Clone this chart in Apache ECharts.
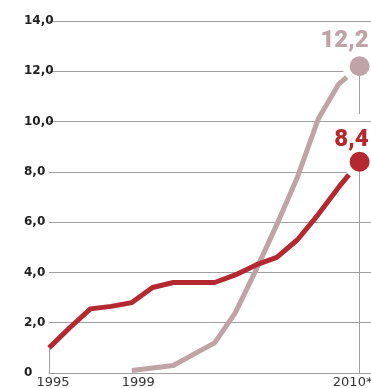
<!DOCTYPE html>
<html>
<head>
<meta charset="utf-8">
<script src="https://cdn.jsdelivr.net/npm/echarts@6/dist/echarts.min.js"></script>
<style>
html,body{margin:0;padding:0;background:#fff;}
#chart{width:371px;height:388px;}
</style>
</head>
<body>
<div id="chart"></div>
<script>
const years = [1995,1996,1997,1998,1999,2000,2001,2002,2003,2004,2005,2006,2007,2008,2009,2010];
const redValues = [1.0,1.8,2.55,2.65,2.8,3.4,3.6,3.6,3.6,3.9,4.3,4.6,5.3,6.3,7.4,8.4];
const grayYears = [1999,2000,2001,2002,2003,2004,2005,2006,2007,2008,2009,2010];
const grayValues = [0.1,0.2,0.3,0.75,1.2,2.4,4.1,5.9,7.8,10.1,11.5,12.2];
const xTickLabels = [1995,1999,2010];
const yTicks = [0,2,4,6,8,10,12,14];

const RED = '#b5282f';
const GRAY = '#c0a3a6';
const GRID = '#a0a0a0';

const fmt = v => v === 0 ? '0' : v.toFixed(1).replace('.', ',');

const redData = years.map((y,i)=>[y, redValues[i]]);
const grayData = grayYears.map((y,i)=>[y, grayValues[i]]);
const lastRed = redData[redData.length-1];
const lastGray = grayData[grayData.length-1];
const midVal = (lastRed[1] + lastGray[1]) / 2;

const chart = echarts.init(document.getElementById('chart'), null, {renderer:'canvas'});
chart.setOption({
  animation:false,
  grid:{left:49, right:0, top:21, bottom:15, containLabel:false, outerBoundsMode:'none'},
  xAxis:{
    type:'value', min:1995, max:2010.55,
    axisLine:{show:true, lineStyle:{color:GRID, width:1}},
    axisTick:{show:false},
    splitLine:{show:false},
    axisLabel:{
      customValues:xTickLabels,
      margin:3,
      hideOverlap:false,
      formatter:function(v){
        if(v===1995) return '{a|1995}';
        if(v===1999) return '{b|1999}';
        return '{c|2010*}';
      },
      rich:{
        a:{fontFamily:'DejaVu Sans', fontSize:13, color:'#333', padding:[0,0,0,8]},
        b:{fontFamily:'DejaVu Sans', fontSize:13, color:'#333', padding:[0,0,0,13]},
        c:{fontFamily:'DejaVu Sans', fontSize:13, color:'#333', padding:[0,14,0,0]}
      }
    }
  },
  yAxis:{
    type:'value', min:0, max:14, interval:2,
    axisLine:{show:false},
    axisTick:{show:false},
    splitLine:{show:true, lineStyle:{color:GRID, width:1}},
    axisLabel:{
      align:'left', margin:25,
      fontFamily:'DejaVu Sans', fontWeight:'bold', fontSize:12, color:'#222',
      formatter:fmt
    }
  },
  series:[
    {
      type:'line', data:grayData, symbol:'none',
      lineStyle:{color:GRAY, width:5}, z:2
    },
    {
      type:'line', data:redData, symbol:'none',
      lineStyle:{color:RED, width:5}, z:3,
      markLine:{
        silent:true, symbol:'none',
        label:{show:false},
        lineStyle:{color:GRID, width:1, type:'solid'},
        data:[
          [{coord:[years[0],0]},{coord:[years[0],redValues[0]]}],
          [{coord:[lastRed[0],0]},{coord:[lastRed[0],lastRed[1]]}],
          [{coord:[lastGray[0],midVal]},{coord:[lastGray[0],lastGray[1]]}]
        ]
      }
    },
    {
      type:'scatter', data:[lastGray,lastRed], symbol:'circle', symbolSize:34,
      itemStyle:{color:'#fff', opacity:1}, z:4, silent:true
    },
    {
      type:'scatter', symbol:'circle', symbolSize:20, z:5, silent:true,
      itemStyle:{opacity:1},
      data:[
        {value:lastGray, itemStyle:{color:GRAY, opacity:1},
          label:{show:true, position:'top', distance:3, align:'right', offset:[9,0],
            color:GRAY, fontFamily:'Roboto', fontWeight:900, fontSize:24,
            formatter:p=>fmt(p.value[1])}},
        {value:lastRed, itemStyle:{color:RED, opacity:1},
          label:{show:true, position:'top', distance:0, align:'right', offset:[9,0],
            color:RED, fontFamily:'Roboto', fontWeight:900, fontSize:24,
            formatter:p=>fmt(p.value[1])}}
      ]
    }
  ]
});
</script>
</body>
</html>
